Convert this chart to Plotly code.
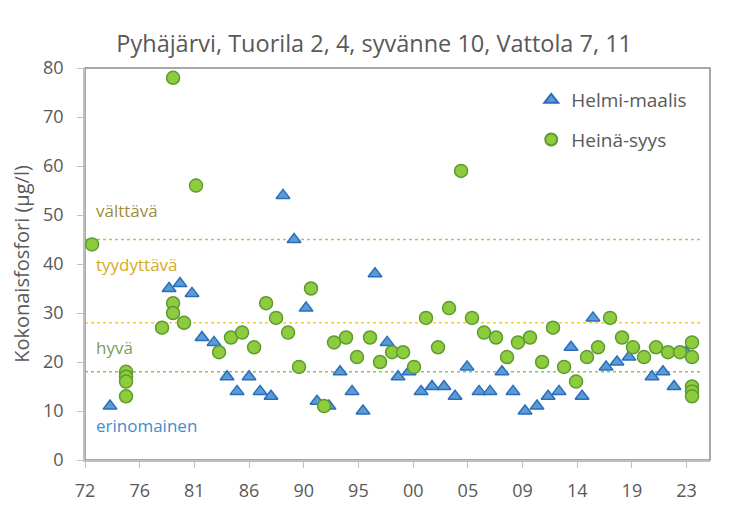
import plotly.graph_objects as go

# Helmi-maalis (Feb-Mar) samples: decimal year, total phosphorus (µg/l)
hm_year = [1974.13, 1979.15, 1980.08, 1981.10, 1981.95, 1982.97, 1984.08, 1984.93,
           1985.95, 1986.89, 1987.82, 1988.84, 1989.78, 1990.80, 1991.73, 1992.75,
           1993.69, 1994.71, 1995.64, 1996.66, 1997.69, 1998.62, 1999.56, 2000.58,
           2001.51, 2002.53, 2003.47, 2004.49, 2005.51, 2006.44, 2007.46, 2008.40,
           2009.42, 2010.44, 2011.38, 2012.31, 2013.33, 2014.27, 2015.20, 2016.31,
           2017.24, 2018.26, 2020.22, 2021.15, 2022.09, 2023.11]
hm_val = [11, 35, 36, 34, 25, 24, 17, 14,
          17, 14, 13, 54, 45, 31, 12, 11,
          18, 14, 10, 38, 24, 17, 18, 14,
          15, 15, 13, 19, 14, 14, 18, 14,
          10, 11, 13, 14, 23, 13, 29, 19,
          20, 21, 17, 18, 15, 22]

# Heinä-syys (Jul-Sep) samples
hs_year = [1972.60, 1975.49, 1975.49, 1975.49, 1975.49, 1978.55, 1979.49, 1979.49,
           1979.49, 1980.42, 1981.44, 1983.40, 1984.42, 1985.36, 1986.38, 1987.40,
           1988.25, 1989.27, 1990.20, 1991.22, 1992.33, 1993.18, 1994.20, 1995.13,
           1996.24, 1997.09, 1998.11, 1999.05, 1999.98, 2001.00, 2002.02, 2002.96,
           2003.98, 2004.91, 2005.93, 2006.95, 2007.89, 2008.82, 2009.84, 2010.87,
           2011.80, 2012.74, 2013.76, 2014.69, 2015.63, 2016.65, 2017.67, 2018.60,
           2019.54, 2020.56, 2021.58, 2022.60, 2023.62, 2023.62, 2023.62, 2023.62,
           2023.62]
hs_val = [44, 18, 17, 16, 13, 27, 78, 32,
          30, 28, 56, 22, 25, 26, 23, 32,
          29, 26, 19, 35, 11, 24, 25, 21,
          25, 20, 22, 22, 19, 29, 23, 31,
          59, 29, 26, 25, 21, 24, 25, 20,
          27, 19, 16, 21, 23, 29, 25, 23,
          21, 23, 22, 22, 24, 21, 15, 14,
          13]

# Class limits and labels
limits = [45, 28, 18]
limit_colors = ["#D9B33C", "#F5CF2A", "#93C060"]
class_names = ["välttävä", "tyydyttävä", "hyvä", "erinomainen"]
class_label_y = [51, 39.8, 22.9, 7.1]
class_colors = ["#A08C3C", "#D4AA24", "#7E9E58", "#3E8DD0"]

# Axis ticks
x_tickvals = [1972.0, 1976.65, 1981.30, 1985.95, 1990.60, 1995.25,
              1999.91, 2004.56, 2009.21, 2013.86, 2018.51, 2023.16]
x_ticktext = ["72", "76", "81", "86", "90", "95", "00", "05", "09", "14", "19", "23"]
x_range = [1972.0, 2025.15]
y_range = [0, 80]

FONT = "Open Sans"
GRAY = "#595959"

fig = go.Figure()
fig.add_trace(go.Scatter(
    x=hm_year, y=hm_val, mode="markers", name="Helmi-maalis",
    legendgroup="a",
    marker=dict(symbol="triangle-up", size=12, color="#5B9BD5",
                line=dict(color="#2A6EBB", width=1.5)),
))
fig.add_trace(go.Scatter(
    x=hs_year, y=hs_val, mode="markers", name="Heinä-syys",
    legendgroup="b",
    marker=dict(symbol="circle", size=13, color="#8DCB3F",
                line=dict(color="#5E9B2E", width=1.5)),
))

shapes = []
for v, c in zip(limits, limit_colors):
    shapes.append(dict(type="line", xref="paper", x0=0, x1=0.985, yref="y", y0=v, y1=v,
                       line=dict(color=c, width=1.5, dash="dot"), layer="below"))
# plot area frame
shapes.append(dict(type="rect", xref="paper", yref="paper", x0=0, x1=1, y0=0, y1=1,
                   line=dict(color="#8C8C8C", width=1.5), layer="below"))

annotations = []
for name, yv, c in zip(class_names, class_label_y, class_colors):
    annotations.append(dict(text=name, x=x_range[0] + 0.75, y=yv, xref="x", yref="y",
                            xanchor="left", yanchor="middle", showarrow=False,
                            font=dict(family=FONT, size=17, color=c)))

fig.update_layout(
    width=728, height=510,
    margin=dict(l=77, r=26, t=60, b=58),
    paper_bgcolor="white", plot_bgcolor="white",
    title=dict(text="Pyhäjärvi, Tuorila 2, 4, syvänne 10, Vattola 7, 11",
               x=0.503, xanchor="center", xref="container",
               y=0.929, yanchor="middle", yref="container",
               font=dict(family=FONT, size=23.5, color=GRAY)),
    font=dict(family=FONT, color=GRAY),
    showlegend=True,
    legend=dict(x=0.714, y=0.967, xanchor="left", yanchor="top",
                bgcolor="rgba(0,0,0,0)", font=dict(family=FONT, size=19, color=GRAY),
                tracegroupgap=12, itemsizing="constant"),
    shapes=shapes,
    annotations=annotations,
)
fig.update_xaxes(range=x_range, tickvals=x_tickvals, ticktext=x_ticktext,
                 showgrid=False, zeroline=False, showline=True, linecolor="#BFBFBF",
                 linewidth=1.5, ticks="outside", ticklen=6, tickcolor="#BFBFBF",
                 ticklabelstandoff=8,
                 tickfont=dict(family=FONT, size=18, color=GRAY))
fig.update_yaxes(range=y_range, dtick=10, showgrid=False, zeroline=False,
                 showline=True, linecolor="#BFBFBF", linewidth=1.5,
                 ticks="outside", ticklen=6, tickcolor="#BFBFBF",
                 ticklabelstandoff=10,
                 title=dict(text="Kokonaisfosfori (µg/l)", standoff=8,
                            font=dict(family=FONT, size=20, color=GRAY)),
                 tickfont=dict(family=FONT, size=18, color=GRAY))

fig.write_html("out.html")
